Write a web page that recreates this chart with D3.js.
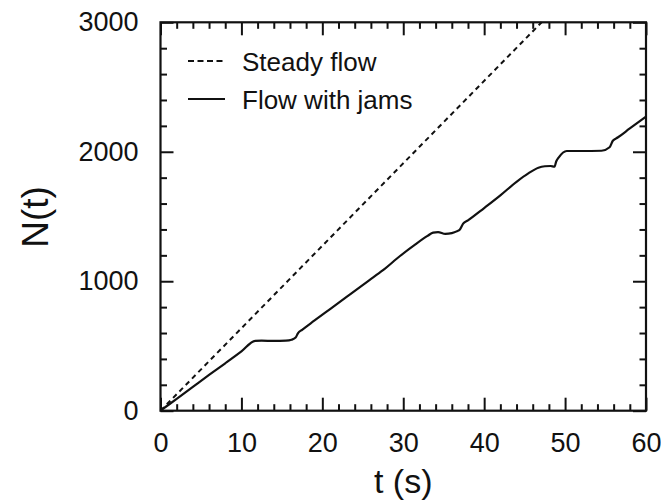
<!DOCTYPE html>
<html>
<head>
<meta charset="utf-8">
<script src="https://cdn.jsdelivr.net/npm/d3@7"></script>
<style>
  html, body { margin: 0; padding: 0; background: #fff; }
  svg { display: block; }
  text { font-family: "Liberation Sans", Arial, sans-serif; fill: #111; }
</style>
</head>
<body>
<svg id="chart" width="661" height="500"></svg>
<script>
// ---- data ----
const steadyT = [0, 47.1];
const steadyN = [0, 3000];

const jamT = [0, 2, 4, 6, 8, 10, 11.7, 12.5, 14, 15.5, 16.2, 16.7, 17.0, 17.5, 19, 21, 23, 25.7, 27.5, 29.6, 31.5, 33.0, 33.7, 34.3, 35.2, 36.0, 36.6, 37.0, 37.4, 38.0, 40, 42, 44, 45.5, 46.7, 47.5, 48.2, 48.7, 48.9, 49.2, 50.2, 52, 54.5, 55.5, 55.9, 56.5, 58, 60];
const jamN = [0, 92, 184, 276, 366, 458, 540, 541, 539, 541, 548, 565, 600, 625, 695, 787, 879, 1003, 1085, 1195, 1285, 1350, 1376, 1380, 1366, 1372, 1385, 1400, 1445, 1470, 1565, 1663, 1768, 1835, 1877, 1888, 1890, 1885, 1925, 1955, 2006, 2006, 2008, 2035, 2085, 2110, 2180, 2272];

const xMajor = [0, 10, 20, 30, 40, 50, 60];
const xMinor = [2, 4, 6, 8, 12, 14, 16, 18, 22, 24, 26, 28, 32, 34, 36, 38, 42, 44, 46, 48, 52, 54, 56, 58];
const yMajor = [0, 1000, 2000, 3000];
const yMinor = [200, 400, 600, 800, 1200, 1400, 1600, 1800, 2200, 2400, 2600, 2800];

const legendLabels = ["Steady flow", "Flow with jams"];
const xTitle = "t (s)";
const yTitle = "N(t)";

// ---- layout ----
const svg = d3.select("#chart");
const X0 = 160.5, X1 = 646, Y0 = 410.7, Y1 = 22.3;
const x = d3.scaleLinear().domain([0, 60]).range([X0, X1]);
const y = d3.scaleLinear().domain([0, 3000]).range([Y0, Y1]);
const ink = "#111";
const majorLen = 13, minorLen = 6.5;

function styleAxis(g) {
  g.select(".domain").remove();
  g.selectAll(".tick line").attr("stroke", ink).attr("stroke-width", 2);
}

// ticks (inward, all four sides)
svg.append("g").attr("transform", `translate(0,${Y0})`)
  .call(d3.axisBottom(x).tickValues(xMajor).tickSize(-majorLen).tickFormat("")).call(styleAxis);
svg.append("g").attr("transform", `translate(0,${Y0})`)
  .call(d3.axisBottom(x).tickValues(xMinor).tickSize(-minorLen).tickFormat("")).call(styleAxis);
svg.append("g").attr("transform", `translate(0,${Y1})`)
  .call(d3.axisTop(x).tickValues(xMajor).tickSize(-majorLen).tickFormat("")).call(styleAxis);
svg.append("g").attr("transform", `translate(0,${Y1})`)
  .call(d3.axisTop(x).tickValues(xMinor).tickSize(-minorLen).tickFormat("")).call(styleAxis);
svg.append("g").attr("transform", `translate(${X0},0)`)
  .call(d3.axisLeft(y).tickValues(yMajor).tickSize(-majorLen).tickFormat("")).call(styleAxis);
svg.append("g").attr("transform", `translate(${X0},0)`)
  .call(d3.axisLeft(y).tickValues(yMinor).tickSize(-minorLen).tickFormat("")).call(styleAxis);
svg.append("g").attr("transform", `translate(${X1},0)`)
  .call(d3.axisRight(y).tickValues(yMajor).tickSize(-majorLen).tickFormat("")).call(styleAxis);
svg.append("g").attr("transform", `translate(${X1},0)`)
  .call(d3.axisRight(y).tickValues(yMinor).tickSize(-minorLen).tickFormat("")).call(styleAxis);

// tick labels
const xl = svg.append("g").attr("transform", `translate(0,${Y0})`)
  .call(d3.axisBottom(x).tickValues(xMajor).tickSize(0).tickPadding(22).tickFormat(d3.format("d")));
xl.select(".domain").remove();
xl.selectAll("text").attr("font-size", 27).attr("font-family", "Liberation Sans, Arial, sans-serif").attr("fill", ink);

const yl = svg.append("g").attr("transform", `translate(${X0},0)`)
  .call(d3.axisLeft(y).tickValues(yMajor).tickSize(0).tickPadding(22).tickFormat(d3.format("d")));
yl.select(".domain").remove();
yl.selectAll("text").attr("font-size", 27).attr("font-family", "Liberation Sans, Arial, sans-serif").attr("fill", ink);

// frame
svg.append("rect").attr("x", X0).attr("y", Y1).attr("width", X1 - X0).attr("height", Y0 - Y1)
  .attr("fill", "none").attr("stroke", ink).attr("stroke-width", 2.2);

// lines
const line = d3.line().x(d => x(d[0])).y(d => y(d[1]));
const steady = steadyT.map((t, i) => [t, steadyN[i]]);
const jams = jamT.map((t, i) => [t, jamN[i]]);

svg.append("path").datum(steady).attr("d", line)
  .attr("fill", "none").attr("stroke", ink).attr("stroke-width", 2).attr("stroke-dasharray", "5,4");
svg.append("path").datum(jams).attr("d", line.curve(d3.curveMonotoneX))
  .attr("fill", "none").attr("stroke", ink).attr("stroke-width", 2.2).attr("stroke-linejoin", "round");

// legend
const leg = svg.append("g");
const rows = [{y: 61, dash: "6,3.5"}, {y: 99, dash: null}];
rows.forEach((r, i) => {
  const l = leg.append("line").attr("x1", 188).attr("x2", 225).attr("y1", r.y).attr("y2", r.y)
    .attr("stroke", ink).attr("stroke-width", 2);
  if (r.dash) l.attr("stroke-dasharray", r.dash);
  leg.append("text").attr("x", 242).attr("y", r.y + 10).attr("font-size", 26).text(legendLabels[i]);
});

// axis titles
svg.append("text").attr("x", (X0 + X1) / 2).attr("y", 493).attr("text-anchor", "middle")
  .attr("font-size", 34).text(xTitle);
svg.append("text").attr("transform", `translate(48,217) rotate(-90)`).attr("text-anchor", "middle")
  .attr("font-size", 37).text(yTitle);
</script>
</body>
</html>
